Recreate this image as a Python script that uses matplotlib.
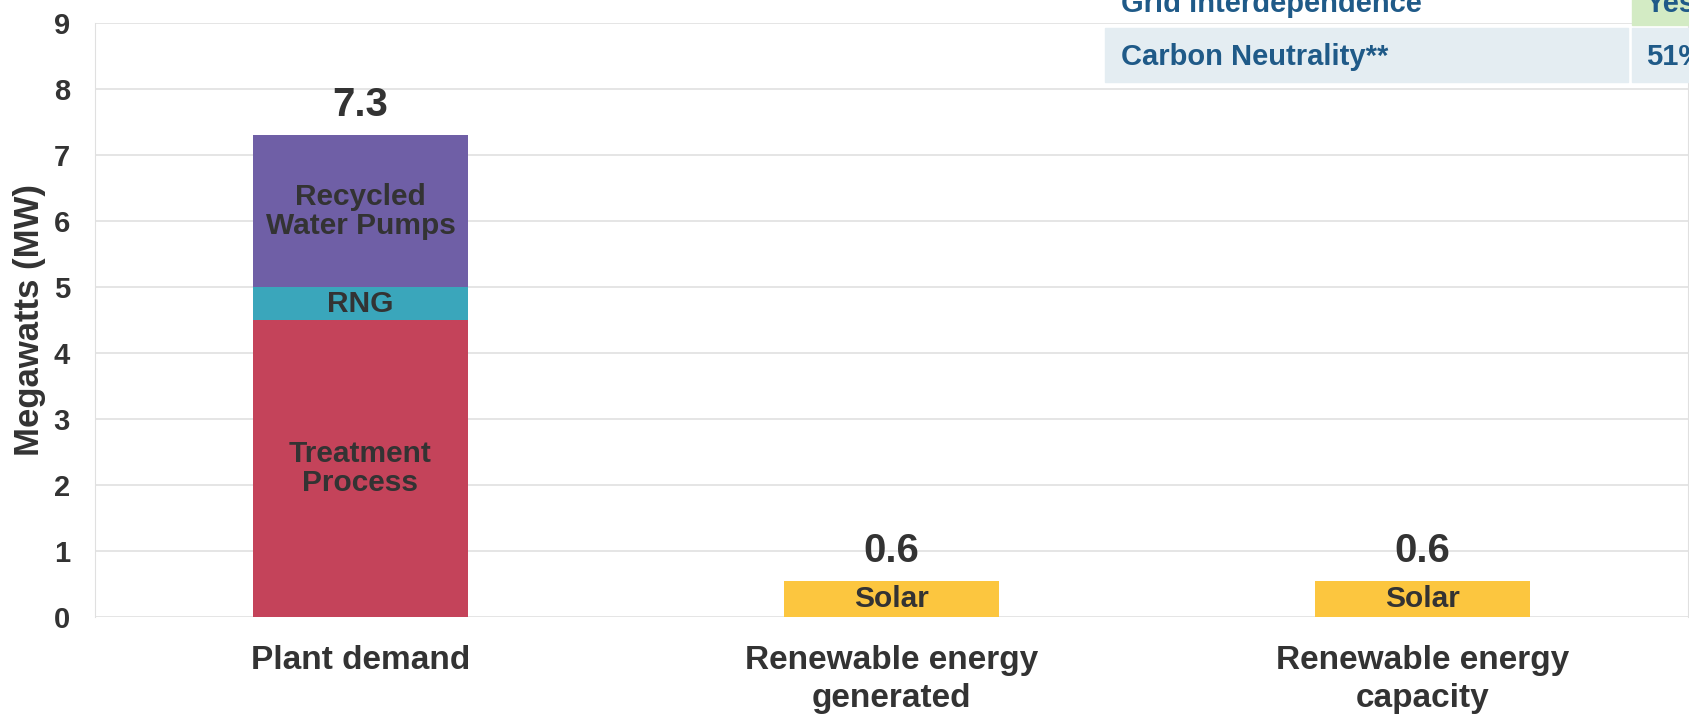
import matplotlib.pyplot as plt
import matplotlib.patches as patches

plt.rcParams['font.family'] = ['Liberation Sans', 'DejaVu Sans']

# dados
categorias = ['Plant demand', 'Renewable energy\ngenerated', 'Renewable energy\ncapacity']
tratamento = [4.5, 0, 0]
rng = [0.5, 0, 0]
bombas = [2.3, 0, 0]
solar = [0, 0.55, 0.55]
rotulos_total = ['7.3', '0.6', '0.6']
yticks = list(range(0, 10))

tabela_linhas = ['Grid interdependence', 'Carbon Neutrality**']
tabela_valores = ['Yes', '51%']

cor_texto = '#333333'
cor_trat = '#c4435a'
cor_rng = '#3aa6bb'
cor_bomba = '#6f5fa6'
cor_solar = '#fcc63f'
azul = '#1f5a88'

W, H = 1690, 719
fig = plt.figure(figsize=(W / 100, H / 100), dpi=100)
ax = fig.add_axes([95 / W, 1 - 617 / H, (1688 - 95) / W, (617 - 23) / H])

x = list(range(len(categorias)))
larg = 0.405

ax.bar(x[:1], tratamento[:1], larg, color=cor_trat)
ax.bar(x[:1], rng[:1], larg, bottom=tratamento[:1], color=cor_rng)
base = [t + r for t, r in zip(tratamento, rng)]
ax.bar(x[:1], bombas[:1], larg, bottom=base[:1], color=cor_bomba)
ax.bar(x[1:], solar[1:], larg, color=cor_solar)

# rótulos dentro das barras
kw = dict(ha='center', va='center', fontsize=21.5, weight='bold', color=cor_texto,
          linespacing=1.05)
ax.text(x[0], tratamento[0] / 2, 'Treatment\nProcess', **kw)
ax.text(x[0], tratamento[0] + rng[0] / 2, 'RNG', **kw)
ax.text(x[0], base[0] + bombas[0] / 2, 'Recycled\nWater Pumps', **kw)
for i in x[1:]:
    ax.text(i, solar[i] / 2, 'Solar', **kw)

# totais
totais = [tratamento[i] + rng[i] + bombas[i] + solar[i] for i in x]
for i in x:
    ax.annotate(rotulos_total[i], (i, totais[i]), xytext=(0, 8),
                textcoords='offset points', ha='center', va='bottom',
                fontsize=29, weight='bold', color=cor_texto)

ax.set_xlim(-0.5, 2.5)
ax.set_ylim(0, 9)
ax.set_yticks(yticks)
ax.set_xticks(x)
ax.set_xticklabels(categorias, fontsize=24, weight='bold', color=cor_texto,
                   linespacing=1.3, va='top')
ax.tick_params(axis='x', length=0, pad=20)
ax.tick_params(axis='y', length=0, pad=18, labelsize=21, labelcolor=cor_texto)
for lbl in ax.get_yticklabels():
    lbl.set_fontweight('bold')
ax.set_ylabel('Megawatts (MW)', fontsize=25, weight='bold', color=cor_texto,
              va='center')
ax.yaxis.set_label_coords((30 - 95) / (1688 - 95), 0.5)
ax.yaxis.grid(True, color='#e0e0e0', lw=1.2)
ax.set_axisbelow(True)
for s in ['top', 'bottom']:
    ax.spines[s].set_visible(False)
ax.spines['left'].set_color('#e0e0e0')
ax.spines['right'].set_color('#e0e0e0')

# tabela no canto superior direito (cortada)
def px(xp, yp):
    return xp / W, 1 - yp / H

fig.patches.append(patches.Rectangle(px(1105, 82), (1628 - 1105) / W, 54 / H,
                                     transform=fig.transFigure, color='#e4edf2', zorder=0))
fig.patches.append(patches.Rectangle(px(1632, 82), (W - 1632) / W, 54 / H,
                                     transform=fig.transFigure, color='#e4edf2', zorder=0))
fig.patches.append(patches.Rectangle(px(1632, 25), (W - 1632) / W, 30 / H,
                                     transform=fig.transFigure, color='#d3ebc4', zorder=0))
linhas_y = [4, 57]
for nome, valor, yp in zip(tabela_linhas, tabela_valores, linhas_y):
    fig.text(*px(1121, yp), nome, ha='left', va='center', fontsize=21,
             weight='bold', color=azul)
    fig.text(*px(1646, yp), valor, ha='left', va='center', fontsize=21,
             weight='bold', color=azul)

fig.savefig('out.png', dpi=100)
